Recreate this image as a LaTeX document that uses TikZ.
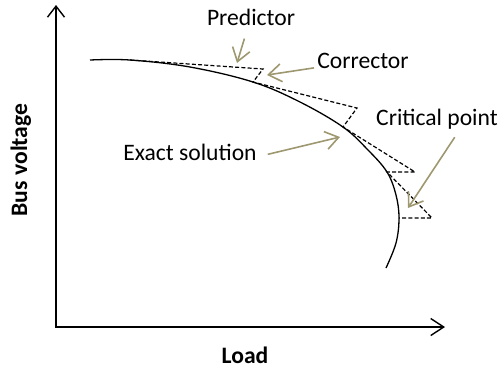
\documentclass[tikz,border=0pt]{standalone}
\usepackage{fontspec}
\setmainfont{Carlito}
\usepackage{tikz}
\usetikzlibrary{arrows.meta, calc, positioning}
\definecolor{notecol}{RGB}{158,152,112}

\begin{document}
\begin{tikzpicture}[x=0.5pt,y=-0.5pt,
  axis/.style={line width=0.7pt, {Straight Barb[length=5.5pt,width=8.5pt]}-{Straight Barb[length=6.5pt,width=8.5pt]}},
  curve/.style={line width=0.65pt},
  steps/.style={dash pattern=on 2pt off 1.1pt, line width=0.6pt},
  note/.style={notecol, line width=0.8pt, -{Straight Barb[length=6.5pt,width=9pt]}},
  lbl/.style={font=\fontsize{11.8}{14}\selectfont, inner sep=0pt, anchor=base},
  axlbl/.style={lbl, font=\fontsize{11.8}{14}\selectfont\bfseries}]
\useasboundingbox (0,0) rectangle (502,372);

% axes
\coordinate (o) at (56,327);
\coordinate (ytop) at (56,5);
\coordinate (xend) at (445,327);
\draw[axis] (ytop) -- (o) -- (xend);
\node[axlbl] (lbl-load) at (245,363) {Load};
\node[axlbl,rotate=90] (lbl-bus) at (27,160) {Bus voltage};

% exact solution
\coordinate (c0) at (130,60);
\coordinate (c1) at (253,82);
\coordinate (c2) at (343,127);
\coordinate (c3) at (387,172);
\coordinate (nose) at (399,218);
\draw[curve] plot[smooth,tension=0.6] coordinates {(90,60) (c0) (190,67) (c1) (300,102) (c2) (368,150) (c3) (396,195) (nose) (396,243) (386,268)};

% predictor / corrector steps
\coordinate (p1) at (263,69);
\coordinate (p2) at (357,108);
\coordinate (p3) at (415,172);
\coordinate (p4) at (432,218);
\draw[steps] (c0) -- (p1) -- (c1) -- (p2) -- (c2) -- (p3) -- (c3) -- (p4) -- (nose);

% labels
\node[lbl] (lbl-pred) at (251,25) {Predictor};
\node[lbl] (lbl-corr) at (363,68) {Corrector};
\node[lbl] (lbl-exact) at (190,160) {Exact solution};
\node[lbl] (lbl-crit) at (437,125) {Critical point};

\coordinate (tip-pred) at (237,63);
\coordinate (tip-corr) at (267,75);
\coordinate (tip-exact) at (340,137);
\coordinate (tip-crit) at (408,208);
\draw[note,shorten <=6.8pt] (lbl-pred) -- (tip-pred);
\draw[note,shorten <=1.5pt] (lbl-corr) -- (tip-corr);
\draw[note,shorten <=5.5pt] ([yshift=-2.5pt]lbl-exact.east) -- (tip-exact);
\draw[note,shorten <=4.8pt] ([xshift=11.5pt]lbl-crit.south) -- (tip-crit);
%\draw[step=10,color=gray!30] (0,0) grid (502,372);

\end{tikzpicture}
\end{document}
